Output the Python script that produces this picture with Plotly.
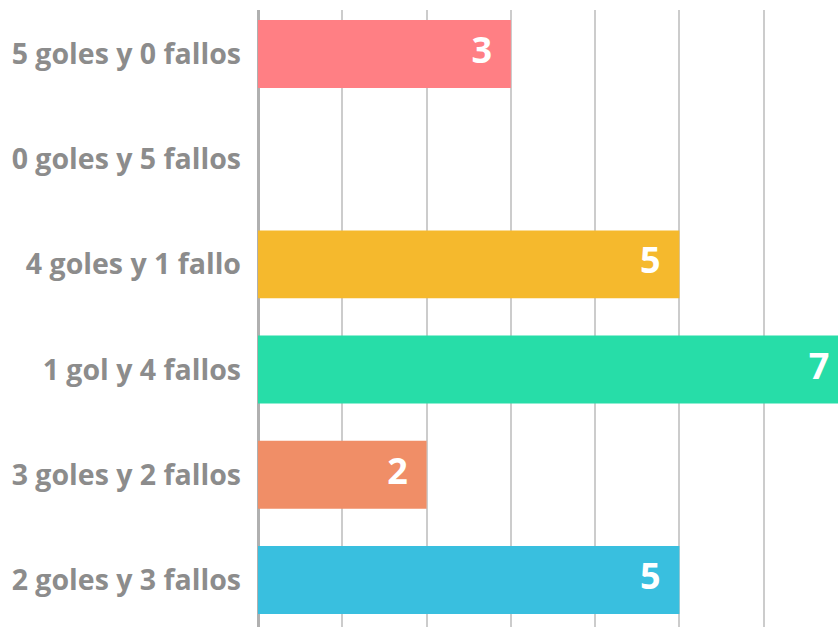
import plotly.graph_objects as go

categories = ["5 goles y 0 fallos", "0 goles y 5 fallos", "4 goles y 1 fallo",
              "1 gol y 4 fallos", "3 goles y 2 fallos", "2 goles y 3 fallos"]
values = [3, 0, 5, 7, 2, 5]
colors = ["#FF7F84", "#FFFFFF", "#F5B92D", "#27DDA8", "#F08E67", "#39BFDF"]

labels = [(str(v) + "\u00a0\u00a0") if v > 0 else "" for v in values]

fig = go.Figure()
fig.add_trace(go.Bar(
    x=values, y=categories, orientation="h",
    marker=dict(color=colors, line=dict(width=0)),
    width=0.646, hoverinfo="skip", showlegend=False,
))
fig.add_trace(go.Scatter(
    x=values, y=categories, mode="text", text=labels,
    textposition="middle left", cliponaxis=False,
    textfont=dict(family="Open Sans", size=36, color="white", weight="bold"),
    hoverinfo="skip", showlegend=False,
))

# the chart is wider than the window on purpose: the longest bar runs past the right edge
fig.update_layout(
    width=880, height=627,
    margin=dict(l=258, r=0, t=10, b=0, autoexpand=False),
    plot_bgcolor="white", paper_bgcolor="white",
    xaxis=dict(range=[0, 7.38], dtick=1, showticklabels=False, showgrid=True,
               gridcolor="#CCCCCC", gridwidth=2, zeroline=True,
               zerolinecolor="#B0B0B0", zerolinewidth=3, fixedrange=True),
    yaxis=dict(categoryorder="array", categoryarray=categories,
               range=[5.447, -0.418], showgrid=False, zeroline=False,
               ticklabelstandoff=16, automargin=False, fixedrange=True,
               tickfont=dict(family="Open Sans", size=28.5, color="#8C8C8C", weight="bold")),
)

fig.write_html(
    "out.html", config={"displayModeBar": False},
    post_script="document.documentElement.style.overflow='hidden';"
                "document.body.style.margin='0';document.body.style.overflow='hidden';")
